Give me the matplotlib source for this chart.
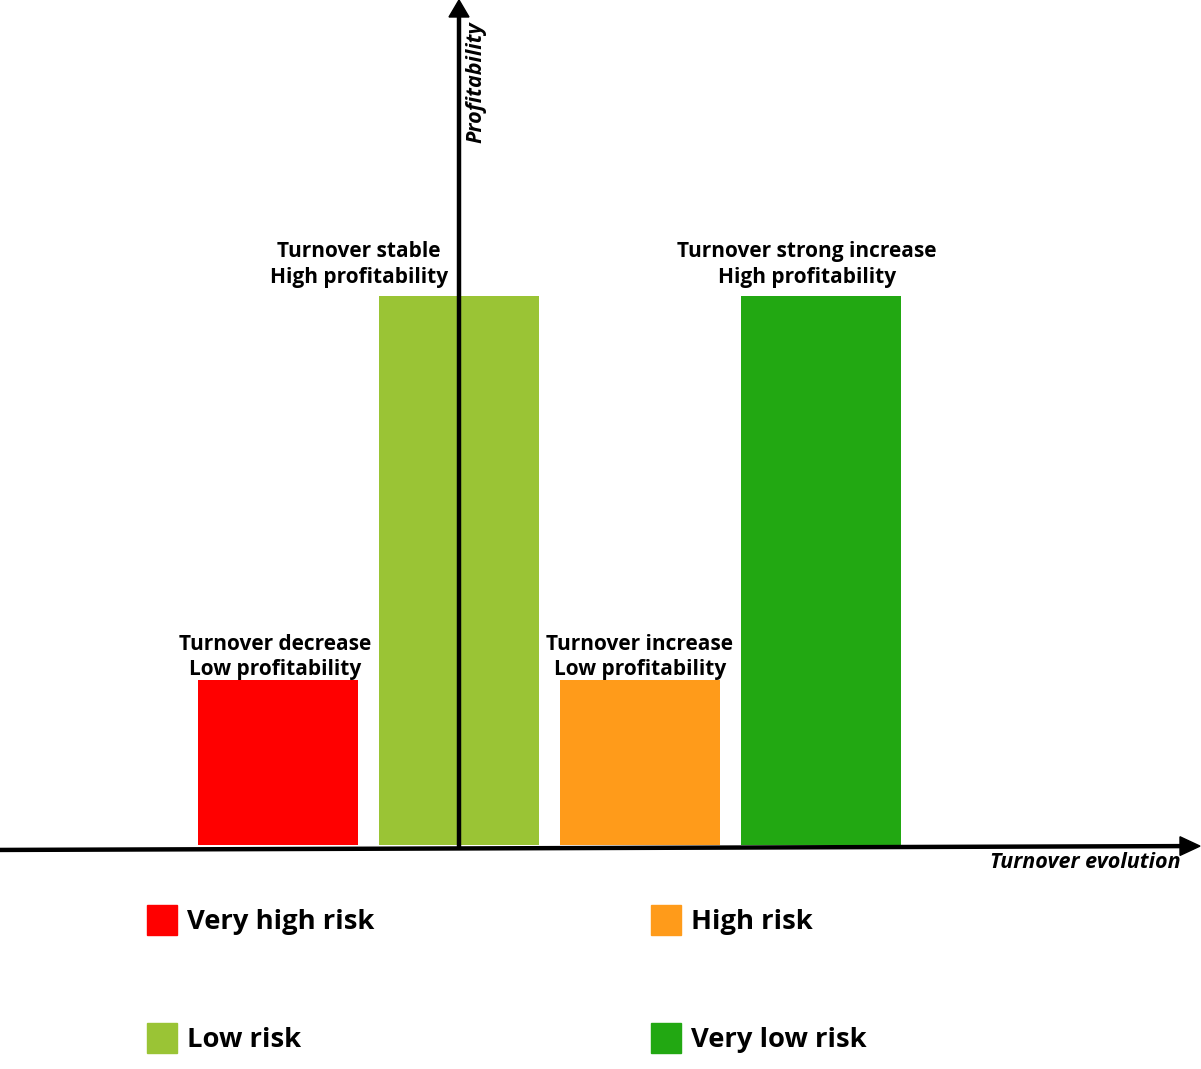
import matplotlib
matplotlib.use("Agg")
import matplotlib.pyplot as plt
from matplotlib.patches import Rectangle

# data
positions = [-1, 0, 1, 2]
heights = [30, 100, 30, 100]
labels = ["Turnover decrease\nLow profitability",
          "Turnover stable\nHigh profitability",
          "Turnover increase\nLow profitability",
          "Turnover strong increase\nHigh profitability"]
colors = ["#FF0000", "#9AC435", "#FF9B1A", "#22A812"]
risk_names = ["Very high risk", "High risk", "Low risk", "Very low risk"]
risk_colors = ["#FF0000", "#FF9B1A", "#9AC435", "#22A812"]

# label offsets in pixels (keeps "stable" text clear of the axis)
label_dx = [-3, -100, 0, -14]
label_dy = [0, 8, 0, 8]

W, H = 1201, 1069
fig = plt.figure(figsize=(W / 100, H / 100), dpi=100)
ax = fig.add_axes([0, 0, 1, 1])

# pixel mapping: x_px = 459 + 181*x ; y_px(top) = 845 - 5.49*v
sx, sy = 181.0, 5.49
ax.set_xlim(-459 / sx, (W - 459) / sx)
ax.set_ylim(-(H - 845) / sy, 845 / sy)
ax.axis("off")

font = "Open Sans"

ax.bar(positions, heights, width=160 / sx, color=colors, zorder=2)

for x, h, lab, dx, dy in zip(positions, heights, labels, label_dx, label_dy):
    ax.text(x + dx / sx, h + dy / sy, lab, ha="center", va="bottom",
            fontsize=15, fontweight="bold", family=font, linespacing=1.3,
            zorder=4)

# axes arrows
y0 = -0.5
ax.plot([-459 / sx, (1183 - 459) / sx], [y0 - 0.4, y0 + 0.3], color="black",
        lw=3.2, solid_capstyle="butt", zorder=3)
ax.add_patch(plt.Polygon([[(1180 - 459) / sx, y0 + 0.3 + 1.7],
                          [(1180 - 459) / sx, y0 + 0.3 - 1.7],
                          [(1200 - 459) / sx, y0 + 0.3]],
                         closed=True, color="black", zorder=3))
ax.plot([0, 0], [y0 - 0.2, (845 - 14) / sy], color="black", lw=3.2,
        solid_capstyle="butt", zorder=3)
ax.add_patch(plt.Polygon([[-10 / sx, (845 - 17) / sy],
                          [10 / sx, (845 - 17) / sy],
                          [0, (845 - 0) / sy]],
                         closed=True, color="black", zorder=3))

ax.text(17 / sx, (845 - 82) / sy, "Profitability", rotation=90, ha="center",
        va="center", fontsize=15.5, fontweight="bold", fontstyle="italic",
        family=font, zorder=4)
ax.text((1181 - 459) / sx, (845 - 863) / sy, "Turnover evolution", ha="right",
        va="center", fontsize=15.5, fontweight="bold", fontstyle="italic",
        family=font, zorder=4)

# legend in figure pixels
legend_pos = [(147, 920), (651, 920), (147, 1038), (651, 1038)]
for (px, py), name, col in zip(legend_pos, risk_names, risk_colors):
    fig.patches.append(Rectangle((px / W, 1 - (py + 15) / H), 30 / W, 30 / H,
                                 transform=fig.transFigure, color=col))
    fig.text((px + 40) / W, 1 - (py + 2) / H, name, ha="left", va="center",
             fontsize=19.7, fontweight="bold", family=font)

fig.savefig("out.png", dpi=100, facecolor="white")
